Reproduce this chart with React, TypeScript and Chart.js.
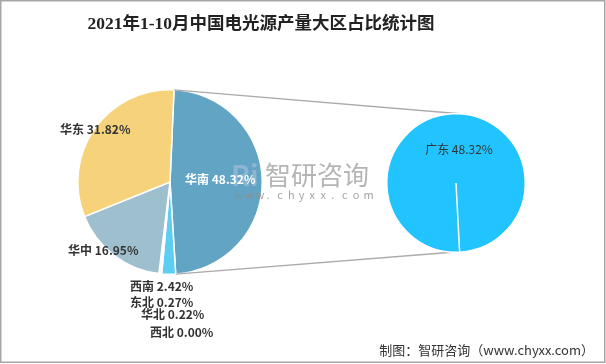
import React, { useEffect, useRef } from "react";
import Chart from "chart.js/auto";

const regions = ["华南", "西南", "东北", "华北", "西北", "华中", "华东"];
const regionShares = [48.32, 2.42, 0.27, 0.22, 0.0, 16.95, 31.82];
const regionColors = ["#62A4C4", "#5DCDF2", "#A5A5A5", "#5B9BD5", "#70AD47", "#9EBFCE", "#F6D37B"];
const provinces = ["广东"];
const provinceShares = [48.32];
const provinceColors = ["#22C4FF"];
const titleText = "2021年1-10月中国电光源产量大区占比统计图";
const footerText = "制图：智研咨询（www.chyxx.com）";

const W = 606;
const H = 364;
const CJK = '"Noto Sans CJK SC", "Microsoft YaHei", sans-serif';

// label offsets relative to pie centre (layout only)
const labelOffsets: Record<string, [number, number, string]> = {
  华南: [15, -3, "#ffffff"],
  西南: [-40, 104, "#333333"],
  东北: [-40, 120, "#333333"],
  华北: [-29, 132, "#333333"],
  西北: [-20, 150, "#333333"],
  华中: [-102, 68, "#333333"],
  华东: [-110, -53, "#333333"],
};

export default function App() {
  const leftRef = useRef<HTMLCanvasElement | null>(null);
  const rightRef = useRef<HTMLCanvasElement | null>(null);

  useEffect(() => {
    const rightChart = new Chart(rightRef.current as HTMLCanvasElement, {
      type: "pie",
      data: {
        labels: provinces,
        datasets: [
          {
            data: provinceShares,
            backgroundColor: provinceColors,
            borderColor: "#ffffff",
            borderWidth: 1.5,
          },
        ],
      },
      options: {
        responsive: false,
        animation: false,
        rotation: 177,
        layout: { padding: { left: 386, right: 80, top: 113, bottom: 111 } },
        plugins: { legend: { display: false }, tooltip: { enabled: false } },
        events: [],
      },
      plugins: [
        {
          id: "rightLabels",
          afterDraw(chart: any) {
            const ctx = chart.ctx;
            const arc = chart.getDatasetMeta(0).data[0] as any;
            ctx.save();
            ctx.font = `12px ${CJK}`;
            ctx.fillStyle = "#333333";
            ctx.textAlign = "center";
            ctx.textBaseline = "middle";
            provinces.forEach((p, i) => {
              ctx.fillText(`${p} ${provinceShares[i].toFixed(2)}%`, arc.x + 3, arc.y - 34);
            });
            ctx.restore();
          },
        },
      ],
    } as any);

    const leftChart = new Chart(leftRef.current as HTMLCanvasElement, {
      type: "pie",
      data: {
        labels: regions,
        datasets: [
          {
            data: regionShares,
            backgroundColor: regionColors,
            borderColor: "#ffffff",
            borderWidth: 1.5,
          },
        ],
      },
      options: {
        responsive: false,
        animation: false,
        rotation: 2.5,
        layout: { padding: { left: 77, right: 343, top: 89, bottom: 89 } },
        plugins: { legend: { display: false }, tooltip: { enabled: false } },
        events: [],
      },
      plugins: [
        {
          id: "decor",
          beforeDraw(chart: any) {
            const ctx = chart.ctx;
            ctx.save();
            ctx.fillStyle = "#ffffff";
            ctx.fillRect(0, 0, W, H);
            ctx.restore();
          },
          afterDraw(chart: any) {
            const ctx = chart.ctx;
            const meta = chart.getDatasetMeta(0);
            const a0 = meta.data[0] as any;
            const cx = a0.x;
            const cy = a0.y;
            const r = a0.outerRadius;
            ctx.save();

            // connector lines from 华南 slice to right pie
            const rArc = rightChart.getDatasetMeta(0).data[0] as any;
            const p1 = [cx + r * Math.cos(a0.startAngle), cy + r * Math.sin(a0.startAngle)];
            const p2 = [cx + r * Math.cos(a0.endAngle), cy + r * Math.sin(a0.endAngle)];
            ctx.strokeStyle = "#ababab";
            ctx.lineWidth = 1.3;
            ctx.beginPath();
            ctx.moveTo(p1[0], p1[1]);
            ctx.lineTo(rArc.x + 4, rArc.y - rArc.outerRadius);
            ctx.moveTo(p2[0], p2[1]);
            ctx.lineTo(rArc.x - 4, rArc.y + rArc.outerRadius);
            ctx.stroke();

            // watermark
            ctx.fillStyle = "rgba(175,195,220,0.55)";
            ctx.font = `bold 28px ${CJK}`;
            ctx.textBaseline = "middle";
            ctx.textAlign = "left";
            ctx.fillText("Ri", 231, 175);
            ctx.fillStyle = "rgba(150,150,150,0.7)";
            ctx.font = `26px ${CJK}`;
            ctx.fillText("智研咨询", 265, 175);
            ctx.font = `11px ${CJK}`;
            ctx.fillStyle = "rgba(140,140,140,0.8)";
            const wm = "www.chyxx.com";
            for (let i = 0; i < wm.length; i++) {
              ctx.fillText(wm[i], 234 + i * 10.8, 195);
            }

            // slice labels
            ctx.textAlign = "left";
            ctx.textBaseline = "middle";
            regions.forEach((name, i) => {
              const off = labelOffsets[name];
              ctx.fillStyle = off[2];
              ctx.font = `bold 12px ${CJK}`;
              ctx.fillText(`${name} ${regionShares[i].toFixed(2)}%`, cx + off[0], cy + off[1]);
            });

            // title
            ctx.fillStyle = "#222222";
            ctx.font = `bold 17.5px "Liberation Serif", ${CJK}`;
            ctx.textAlign = "center";
            ctx.fillText(titleText, 261, 24);

            // footer
            ctx.fillStyle = "#333333";
            ctx.font = `13px ${CJK}`;
            ctx.textAlign = "right";
            ctx.fillText(footerText, 594, 350);

            // frame
            ctx.strokeStyle = "#a6a6a6";
            ctx.lineWidth = 1.5;
            ctx.strokeRect(0.75, 0.75, W - 2, H - 2.5);
            ctx.restore();
          },
        },
      ],
    } as any);

    return () => {
      leftChart.destroy();
      rightChart.destroy();
    };
  }, []);

  return (
    <div style={{ position: "fixed", left: 0, top: 0, width: W, height: H }}>
      <canvas ref={leftRef} width={W} height={H} style={{ position: "absolute", left: 0, top: 0 }} />
      <canvas
        ref={rightRef}
        width={W}
        height={H}
        style={{ position: "absolute", left: 0, top: 0, pointerEvents: "none" }}
      />
    </div>
  );
}
